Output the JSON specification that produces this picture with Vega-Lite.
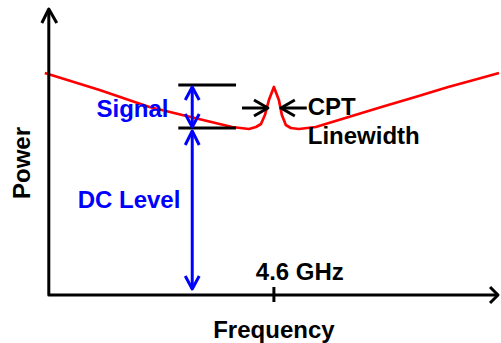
{
  "$schema": "https://vega.github.io/schema/vega-lite/v6.json",
  "width": 501,
  "height": 343,
  "padding": 0,
  "autosize": {"type": "fit", "contains": "padding"},
  "config": {"view": {"stroke": null}},
  "background": "white",
  "datasets": {
    "black": [
      {"g": "axes", "o": 1, "f": 4.374, "p": 285},
      {"g": "axes", "o": 2, "f": 4.374, "p": 0},
      {"g": "axes", "o": 3, "f": 4.825, "p": 0},
      {"g": "yarrow", "o": 1, "f": 4.367, "p": 272},
      {"g": "yarrow", "o": 2, "f": 4.374, "p": 286},
      {"g": "yarrow", "o": 3, "f": 4.382, "p": 272},
      {"g": "xarrow", "o": 1, "f": 4.817, "p": 8},
      {"g": "xarrow", "o": 2, "f": 4.825, "p": 0},
      {"g": "xarrow", "o": 3, "f": 4.817, "p": -8},
      {"g": "tick", "o": 1, "f": 4.6, "p": 8},
      {"g": "tick", "o": 2, "f": 4.6, "p": -7},
      {"g": "hline1", "o": 1, "f": 4.504, "p": 210},
      {"g": "hline1", "o": 2, "f": 4.562, "p": 210},
      {"g": "hline2", "o": 1, "f": 4.504, "p": 167},
      {"g": "hline2", "o": 2, "f": 4.562, "p": 167},
      {"g": "lshaft", "o": 1, "f": 4.568, "p": 187},
      {"g": "lshaft", "o": 2, "f": 4.594, "p": 187},
      {"g": "lhead", "o": 1, "f": 4.580, "p": 195},
      {"g": "lhead", "o": 2, "f": 4.594, "p": 187},
      {"g": "lhead", "o": 3, "f": 4.580, "p": 179},
      {"g": "rshaft", "o": 1, "f": 4.607, "p": 187},
      {"g": "rshaft", "o": 2, "f": 4.633, "p": 187},
      {"g": "rhead", "o": 1, "f": 4.621, "p": 195},
      {"g": "rhead", "o": 2, "f": 4.607, "p": 187},
      {"g": "rhead", "o": 3, "f": 4.621, "p": 179}
    ],
    "blue": [
      {"g": "sshaft", "o": 1, "f": 4.518, "p": 208},
      {"g": "sshaft", "o": 2, "f": 4.518, "p": 168},
      {"g": "shead1", "o": 1, "f": 4.511, "p": 195},
      {"g": "shead1", "o": 2, "f": 4.518, "p": 208},
      {"g": "shead1", "o": 3, "f": 4.525, "p": 195},
      {"g": "shead2", "o": 1, "f": 4.511, "p": 181},
      {"g": "shead2", "o": 2, "f": 4.518, "p": 168},
      {"g": "shead2", "o": 3, "f": 4.525, "p": 181},
      {"g": "dshaft", "o": 1, "f": 4.518, "p": 164},
      {"g": "dshaft", "o": 2, "f": 4.518, "p": 6},
      {"g": "dhead1", "o": 1, "f": 4.511, "p": 150},
      {"g": "dhead1", "o": 2, "f": 4.518, "p": 164},
      {"g": "dhead1", "o": 3, "f": 4.525, "p": 150},
      {"g": "dhead2", "o": 1, "f": 4.511, "p": 19},
      {"g": "dhead2", "o": 2, "f": 4.518, "p": 6},
      {"g": "dhead2", "o": 3, "f": 4.525, "p": 19}
    ],
    "curve": [
      {"o": 1, "f": 4.370, "p": 222},
      {"o": 2, "f": 4.425, "p": 205},
      {"o": 3, "f": 4.475, "p": 188},
      {"o": 4, "f": 4.508, "p": 180},
      {"o": 5, "f": 4.558, "p": 168},
      {"o": 6, "f": 4.575, "p": 166},
      {"o": 7, "f": 4.582, "p": 168},
      {"o": 8, "f": 4.587, "p": 171},
      {"o": 9, "f": 4.591, "p": 180},
      {"o": 10, "f": 4.595, "p": 195},
      {"o": 11, "f": 4.600, "p": 208},
      {"o": 12, "f": 4.605, "p": 195},
      {"o": 13, "f": 4.608, "p": 180},
      {"o": 14, "f": 4.612, "p": 170},
      {"o": 15, "f": 4.617, "p": 167},
      {"o": 16, "f": 4.625, "p": 166},
      {"o": 17, "f": 4.642, "p": 168},
      {"o": 18, "f": 4.675, "p": 178},
      {"o": 19, "f": 4.708, "p": 188},
      {"o": 20, "f": 4.742, "p": 198},
      {"o": 21, "f": 4.775, "p": 208},
      {"o": 22, "f": 4.808, "p": 217},
      {"o": 23, "f": 4.826, "p": 222}
    ],
    "blueText": [
      {"t": "Signal", "f": 4.458, "p": 178},
      {"t": "DC Level", "f": 4.4545, "p": 87}
    ],
    "blackCenterText": [
      {"t": "4.6 GHz", "f": 4.626, "p": 15},
      {"t": "Frequency", "f": 4.6, "p": -43}
    ],
    "blackLeftText": [
      {"t": "CPT", "f": 4.634, "p": 180},
      {"t": "Linewidth", "f": 4.634, "p": 151}
    ],
    "yTitle": [
      {"t": "Power", "f": 4.355, "p": 132}
    ]
  },
  "encoding": {
    "x": {"field": "f", "type": "quantitative", "scale": {"domain": [4.325, 4.826], "nice": false, "zero": false}, "axis": null},
    "y": {"field": "p", "type": "quantitative", "scale": {"domain": [-48, 295], "nice": false, "zero": false}, "axis": null}
  },
  "layer": [
    {
      "data": {"name": "curve"},
      "mark": {"type": "line", "color": "#ff0000", "strokeWidth": 2.7, "strokeJoin": "round"},
      "encoding": {"order": {"field": "o", "type": "quantitative"}}
    },
    {
      "data": {"name": "black"},
      "mark": {"type": "line", "color": "#000000", "strokeWidth": 3, "strokeJoin": "round"},
      "encoding": {"detail": {"field": "g", "type": "nominal"}, "order": {"field": "o", "type": "quantitative"}}
    },
    {
      "data": {"name": "blue"},
      "mark": {"type": "line", "color": "#0000ff", "strokeWidth": 3, "strokeJoin": "round"},
      "encoding": {"detail": {"field": "g", "type": "nominal"}, "order": {"field": "o", "type": "quantitative"}}
    },
    {
      "data": {"name": "blueText"},
      "mark": {"type": "text", "font": "Liberation Sans", "fontWeight": "bold", "fontSize": 24, "color": "#0000ff", "align": "center", "baseline": "alphabetic"},
      "encoding": {"text": {"field": "t", "type": "nominal"}}
    },
    {
      "data": {"name": "blackCenterText"},
      "mark": {"type": "text", "font": "Liberation Sans", "fontWeight": "bold", "fontSize": 24, "color": "#000000", "align": "center", "baseline": "alphabetic"},
      "encoding": {"text": {"field": "t", "type": "nominal"}}
    },
    {
      "data": {"name": "blackLeftText"},
      "mark": {"type": "text", "font": "Liberation Sans", "fontWeight": "bold", "fontSize": 24, "color": "#000000", "align": "left", "baseline": "alphabetic"},
      "encoding": {"text": {"field": "t", "type": "nominal"}}
    },
    {
      "data": {"name": "yTitle"},
      "mark": {"type": "text", "font": "Liberation Sans", "fontWeight": "bold", "fontSize": 24, "color": "#000000", "align": "center", "baseline": "alphabetic", "angle": 270},
      "encoding": {"text": {"field": "t", "type": "nominal"}}
    }
  ]
}
